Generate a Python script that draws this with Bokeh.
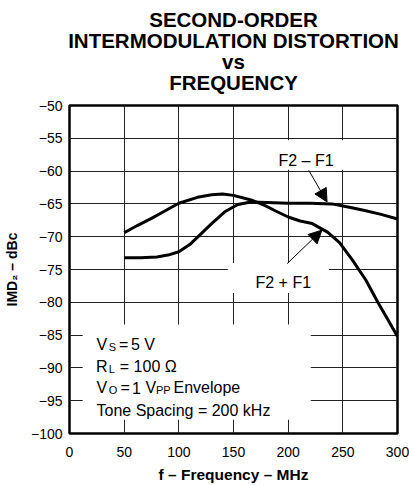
from bokeh.plotting import figure
from bokeh.models import Label, BoxAnnotation, Arrow, NormalHead, FixedTicker, Range1d, Title
from bokeh.embed import file_html
from bokeh.resources import INLINE

# ---- data ----
freq_sum = [50, 62, 75, 88, 100, 117, 130, 140, 150, 166, 178, 190, 200, 211, 222, 236, 247, 259, 271, 282, 291, 300]
imd_sum = [-69.4, -68.3, -67.2, -66.0, -64.9, -64.0, -63.6, -63.5, -63.7, -64.4, -65.2, -66.2, -67.0, -67.6,
           -68.0, -69.3, -70.9, -73.6, -76.6, -80.0, -82.6, -85.2]
freq_diff = [50, 65, 80, 90, 100, 110, 120, 130, 142, 154, 166, 180, 200, 220, 240, 256, 270, 285, 300]
imd_diff = [-73.2, -73.2, -73.1, -72.8, -72.3, -71.2, -69.6, -68.0, -66.2, -65.1, -64.7, -64.8, -64.9, -64.9,
            -65.0, -65.5, -66.0, -66.6, -67.3]
x_ticks = [0, 50, 100, 150, 200, 250, 300]
y_ticks = [-100, -95, -90, -85, -80, -75, -70, -65, -60, -55, -50]
title_lines = ["SECOND-ORDER", "INTERMODULATION DISTORTION", "vs", "FREQUENCY"]
x_title = "f \u2013 Frequency \u2013 MHz"
y_title = "IMD\u2082 \u2013 dBc"
label_diff = "F2 \u2013 F1"
label_sum = "F2 + F1"

FONT = "Liberation Sans"
X0, Y0 = 69, 434  # page pixel position of the frame's bottom-left corner

p = figure(width=409, height=485, x_range=Range1d(0, 300), y_range=Range1d(-100, -50),
           title=None, output_backend="svg", toolbar_location=None,
           min_border_left=69, min_border_right=12, min_border_top=105, min_border_bottom=51)
p.background_fill_color = "white"
p.border_fill_color = "white"
p.outline_line_color = "black"
p.outline_line_width = 2.5
p.outline_line_alpha = 1

# gap between the frame and the title block (the first title added sits closest to the frame)
p.add_layout(Title(text=" ", align="center", text_font=FONT, text_font_size="1px", standoff=10.6), "above")
for line in reversed(title_lines):
    p.add_layout(Title(text=line, align="center", text_font=FONT, text_font_size="20.5px",
                       text_font_style="bold", text_color="black", standoff=-4), "above")

for ax, ticks in ((p.xaxis, x_ticks), (p.yaxis, y_ticks)):
    ax.ticker = FixedTicker(ticks=ticks)
    ax.major_tick_in = 0
    ax.major_tick_out = 0
    ax.minor_tick_line_color = None
    ax.axis_line_color = None
    ax.major_label_text_font = FONT
    ax.major_label_text_font_size = "14px"
    ax.major_label_text_color = "black"
    ax.axis_label_text_font = FONT
    ax.axis_label_text_font_style = "bold"
    ax.axis_label_text_color = "black"
p.xaxis.major_label_standoff = 13
p.yaxis.major_label_standoff = 7
p.yaxis.major_label_overrides = {t: "\u2212" + str(-t) for t in y_ticks}
p.xaxis.axis_label = x_title
p.xaxis.axis_label_text_font_size = "15.5px"
p.xaxis.axis_label_standoff = 6
p.yaxis.axis_label = y_title
p.yaxis.axis_label_text_font_size = "14px"
p.yaxis.axis_label_standoff = 8

for g in (p.xgrid, p.ygrid):
    g.grid_line_color = "#222222"
    g.grid_line_width = 1

p.line(freq_sum, imd_sum, line_width=3, line_color="black", line_join="round")
p.line(freq_diff, imd_diff, line_width=3, line_color="black", line_join="round")

# white backgrounds behind the annotations (they break the grid lines)
for l, r, t, b in ((12.1, 220.7, -83.4, -97.9), (144.8, 237.2, -74.0, -78.6), (182.5, 252.0, -55.3, -59.8)):
    p.add_layout(BoxAnnotation(left=l, right=r, top=t, bottom=b, fill_color="white", fill_alpha=1,
                               line_color=None, line_alpha=0))

for xs, ys, xe, ye in ((218.9, -59.9, 235.6, -64.7), (199.1, -74.1, 230.9, -69.0)):
    p.add_layout(Arrow(end=NormalHead(size=13, fill_color="black", line_color="black", line_width=1),
                       x_start=xs, y_start=ys, x_end=xe, y_end=ye, line_width=1, line_color="black"))


def txt(px, base, s, size):
    p.add_layout(Label(x=0, y=-100, x_offset=px - X0, y_offset=Y0 - base, text=s,
                       text_font=FONT, text_font_size=f"{size}px",
                       text_align="left", text_baseline="alphabetic", text_color="black"))


# curve labels
txt(278, 160.7, label_diff, 16)
txt(255, 282.7, label_sum, 16)

# test conditions
txt(96, 345, "V", 16)
txt(108.3, 347.5, "S", 11)
txt(118.5, 345, "=", 16)
txt(130.5, 345, "5 V", 16)
txt(95.5, 366.7, "R", 16)
txt(108.3, 369.2, "L", 11)
txt(119.3, 366.7, "= 100 \u03a9", 16)
txt(96, 388.3, "V", 16)
txt(108.3, 390.8, "O", 11)
txt(120, 388.3, "=", 16)
txt(131.5, 388.3, "1", 16)
txt(145, 388.3, "V", 16)
txt(155.5, 390.8, "PP", 11)
txt(173, 388.3, "Envelope", 16)
txt(96, 410.7, "Tone Spacing = 200 kHz", 16)

open("out.html", "w").write(file_html(p, INLINE))
